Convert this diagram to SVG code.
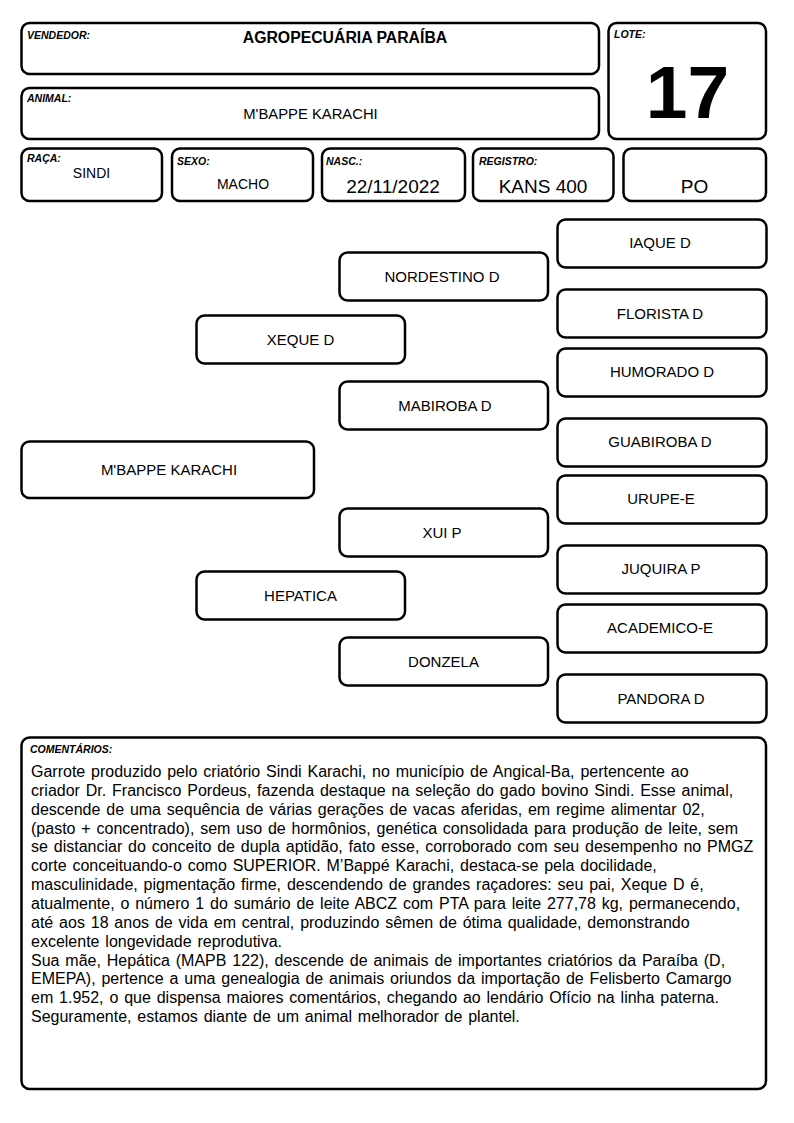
<svg xmlns="http://www.w3.org/2000/svg" width="794" height="1123" viewBox="0 0 794 1123">
<style>
.box{fill:#fff;stroke:#000;stroke-width:2.5}
.lbl{font-family:"Liberation Sans",Arial,sans-serif;font-size:10.5px;font-weight:bold;font-style:italic;fill:#000}
.val{font-family:"Liberation Sans",Arial,sans-serif;fill:#000;text-anchor:middle}
.ped{font-family:"Liberation Sans",Arial,sans-serif;font-size:15px;fill:#000;text-anchor:middle}
.body{font-family:"Liberation Sans",Arial,sans-serif;font-size:16px;fill:#000;word-spacing:1.4px}
</style>
<rect width="794" height="1123" fill="#fff"/>
<g id="vendedor">
<rect class="box" x="21.5" y="23" width="577.5" height="51" rx="8"/>
<text class="lbl" x="27" y="39">VENDEDOR:</text>
<text class="val" x="345" y="43" font-size="15.8" font-weight="bold">AGROPECUÁRIA PARAÍBA</text>
</g>
<g id="animal">
<rect class="box" x="21.5" y="88" width="577.5" height="51" rx="8"/>
<text class="lbl" x="27" y="102">ANIMAL:</text>
<text class="val" x="310.5" y="119" font-size="14.8">M'BAPPE KARACHI</text>
</g>
<g id="lote">
<rect class="box" x="608.5" y="23" width="157.5" height="116" rx="8"/>
<text class="lbl" x="614" y="38">LOTE:</text>
<text class="val" x="687.5" y="118" font-size="75" font-weight="bold">17</text>
</g>
<g id="raca">
<rect class="box" x="21.5" y="148.5" width="140.5" height="52.5" rx="8"/>
<text class="lbl" x="27" y="162">RAÇA:</text>
<text class="val" x="91.5" y="178" font-size="14">SINDI</text>
</g>
<g id="sexo">
<rect class="box" x="172" y="148.5" width="141" height="52.5" rx="8"/>
<text class="lbl" x="177" y="165">SEXO:</text>
<text class="val" x="243" y="189" font-size="14">MACHO</text>
</g>
<g id="nasc">
<rect class="box" x="322" y="148.5" width="143" height="52.5" rx="8"/>
<text class="lbl" x="326" y="165">NASC.:</text>
<text class="val" x="393" y="193" font-size="19">22/11/2022</text>
</g>
<g id="registro">
<rect class="box" x="473" y="148.5" width="140.5" height="52.5" rx="8"/>
<text class="lbl" x="479" y="165">REGISTRO:</text>
<text class="val" x="543" y="193" font-size="19">KANS 400</text>
</g>
<g id="po">
<rect class="box" x="623.5" y="148.5" width="142.5" height="52.5" rx="8"/>
<text class="val" x="694.5" y="193" font-size="19">PO</text>
</g>
<g id="connectors"/>
<g id="n-mbappe">
<rect class="box" x="21.5" y="441.5" width="292.5" height="56.5" rx="8"/>
<text class="ped" x="169" y="475" font-size="14.8">M'BAPPE KARACHI</text>
</g>
<g id="n-xeque">
<rect class="box" x="196.5" y="315.5" width="208.5" height="48" rx="8"/>
<text class="ped" x="300.5" y="345">XEQUE D</text>
</g>
<g id="n-hepatica">
<rect class="box" x="196.5" y="571.5" width="208.5" height="48" rx="8"/>
<text class="ped" x="300.5" y="601">HEPATICA</text>
</g>
<g id="n-nordestino">
<rect class="box" x="339.5" y="252.5" width="208.5" height="48" rx="8"/>
<text class="ped" x="442" y="282">NORDESTINO D</text>
</g>
<g id="n-mabiroba">
<rect class="box" x="339.5" y="381.5" width="208.5" height="48" rx="8"/>
<text class="ped" x="445" y="411">MABIROBA D</text>
</g>
<g id="n-xui">
<rect class="box" x="339.5" y="508.5" width="208.5" height="48" rx="8"/>
<text class="ped" x="442" y="538">XUI P</text>
</g>
<g id="n-donzela">
<rect class="box" x="339.5" y="637.5" width="208.5" height="48" rx="8"/>
<text class="ped" x="443.5" y="667">DONZELA</text>
</g>
<g id="n-iaque">
<rect class="box" x="557.5" y="219.5" width="209" height="48" rx="8"/>
<text class="ped" x="660" y="248">IAQUE D</text>
</g>
<g id="n-florista">
<rect class="box" x="557.5" y="289.5" width="209" height="48" rx="8"/>
<text class="ped" x="660" y="319">FLORISTA D</text>
</g>
<g id="n-humorado">
<rect class="box" x="557.5" y="348.5" width="209" height="48" rx="8"/>
<text class="ped" x="662" y="377">HUMORADO D</text>
</g>
<g id="n-guabiroba">
<rect class="box" x="557.5" y="418.5" width="209" height="48" rx="8"/>
<text class="ped" x="660" y="447">GUABIROBA D</text>
</g>
<g id="n-urupe">
<rect class="box" x="557.5" y="475.5" width="209" height="48" rx="8"/>
<text class="ped" x="661" y="504">URUPE-E</text>
</g>
<g id="n-juquira">
<rect class="box" x="557.5" y="545.5" width="209" height="48" rx="8"/>
<text class="ped" x="661" y="574">JUQUIRA P</text>
</g>
<g id="n-academico">
<rect class="box" x="557.5" y="604.5" width="209" height="48" rx="8"/>
<text class="ped" x="660" y="633">ACADEMICO-E</text>
</g>
<g id="n-pandora">
<rect class="box" x="557.5" y="674.5" width="209" height="48" rx="8"/>
<text class="ped" x="661" y="704">PANDORA D</text>
</g>
<g id="comentarios">
<rect class="box" x="21.5" y="737.5" width="744.5" height="351.5" rx="8"/>
<text class="lbl" x="30" y="752.5">COMENTÁRIOS:</text>
<text class="body" x="31" y="777">
<tspan x="31" y="777">Garrote produzido pelo criatório Sindi Karachi, no município de Angical-Ba, pertencente ao</tspan>
<tspan x="31" dy="18.85">criador Dr. Francisco Pordeus, fazenda destaque na seleção do gado bovino Sindi. Esse animal,</tspan>
<tspan x="31" dy="18.85">descende de uma sequência de várias gerações de vacas aferidas, em regime alimentar 02,</tspan>
<tspan x="31" dy="18.85">(pasto + concentrado), sem uso de hormônios, genética consolidada para produção de leite, sem</tspan>
<tspan x="31" dy="18.85">se distanciar do conceito de dupla aptidão, fato esse, corroborado com seu desempenho no PMGZ</tspan>
<tspan x="31" dy="18.85">corte conceituando-o como SUPERIOR. M’Bappé Karachi, destaca-se pela docilidade,</tspan>
<tspan x="31" dy="18.85">masculinidade, pigmentação firme, descendendo de grandes raçadores: seu pai, Xeque D é,</tspan>
<tspan x="31" dy="18.85">atualmente, o número 1 do sumário de leite ABCZ com PTA para leite 277,78 kg, permanecendo,</tspan>
<tspan x="31" dy="18.85">até aos 18 anos de vida em central, produzindo sêmen de ótima qualidade, demonstrando</tspan>
<tspan x="31" dy="18.85">excelente longevidade reprodutiva.</tspan>
<tspan x="31" dy="18.85">Sua mãe, Hepática (MAPB 122), descende de animais de importantes criatórios da Paraíba (D,</tspan>
<tspan x="31" dy="18.85">EMEPA), pertence a uma genealogia de animais oriundos da importação de Felisberto Camargo</tspan>
<tspan x="31" dy="18.85">em 1.952, o que dispensa maiores comentários, chegando ao lendário Ofício na linha paterna.</tspan>
<tspan x="31" dy="18.85">Seguramente, estamos diante de um animal melhorador de plantel.</tspan>
</text>
</g>
</svg>
